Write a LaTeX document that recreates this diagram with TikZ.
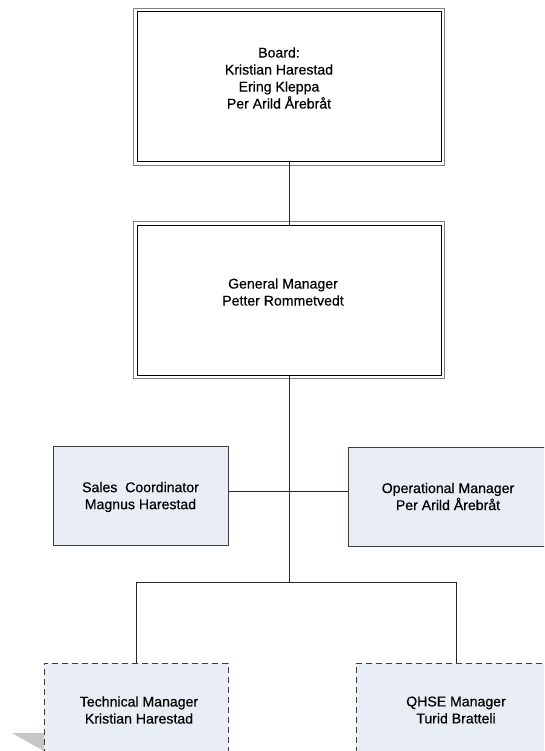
\documentclass[tikz,border=0pt]{standalone}
\usepackage{fontspec}
\setmainfont{Liberation Sans}
\newfontfamily\boxfont[FakeBold=0.4]{Liberation Sans}
\definecolor{boxfill}{RGB}{233,237,245}
\definecolor{edge}{RGB}{60,60,60}
\begin{document}
\begin{tikzpicture}[x=1pt,y=-1pt,
  txt/.style={font=\boxfont\fontsize{14.1}{17}\selectfont, align=center, inner sep=0pt, text=black},
  topbox/.style={draw=black, line width=1pt, inner sep=0pt, minimum width=304pt, minimum height=150pt},
  bluebox/.style={draw=edge, line width=1pt, fill=boxfill, inner sep=0pt, minimum height=99pt},
  dashbox/.style={draw=edge, line width=1pt, fill=boxfill, inner sep=0pt, dash pattern=on 6pt off 4pt, minimum height=116pt},
  conn/.style={draw=black!85, line width=0.9pt}]
\useasboundingbox (0,0) rectangle (544,751);
\clip (0,0) rectangle (544,751);
\fill[white] (0,0) rectangle (544,751);

% Board
\node[topbox] (board) at (289,87) {};
\draw[gray, line width=0.9pt] ([xshift=-3pt,yshift=3pt]board.north west) rectangle ([xshift=3pt,yshift=-3pt]board.south east);
\node[txt] (boardtxt) at (279,78) {Board:\\Kristian Harestad\\Ering Kleppa\\Per Arild Årebråt};

% General manager
\node[topbox] (gm) at (289,300) {};
\draw[gray, line width=0.9pt] ([xshift=-3pt,yshift=3pt]gm.north west) rectangle ([xshift=3pt,yshift=-3pt]gm.south east);
\node[txt] (gmtxt) at (283,292) {General Manager\\Petter Rommetvedt};

% Sales / Operational
\node[bluebox, minimum width=175pt] (sales) at (140.5,495.5) {};
\node[txt] (salestxt) at (140.5,497) {Sales\ \ Coordinator\\Magnus Harestad};
\node[bluebox, minimum width=200pt] (op) at (448,496.5) {};
\node[txt] (optxt) at (448,496.5) {Operational Manager\\Per Arild Årebråt};

% shadow triangle
\fill[gray!45] (12,733) -- (44,733) -- (44,751) -- cycle;

% Technical / QHSE
\node[dashbox, minimum width=184pt] (tech) at (136,721) {};
\node[txt] (techtxt) at (139,710) {Technical Manager\\Kristian Harestad};
\node[dashbox, minimum width=200pt] (qhse) at (456,721) {};
\node[txt] (qhsetxt) at (456,710) {QHSE Manager\\Turid Bratteli};

% connectors
\coordinate (h) at (289,491);
\coordinate (j) at (289,582);
\draw[conn] (board.south) -- (gm.north);
\draw[conn] (gm.south) -- (j);
\draw[conn] (sales.east |- h) -- (op.west |- h);
\draw[conn] (tech.north) -- (tech.north |- j) -- (qhse.north |- j) -- (qhse.north);
\end{tikzpicture}
\end{document}
